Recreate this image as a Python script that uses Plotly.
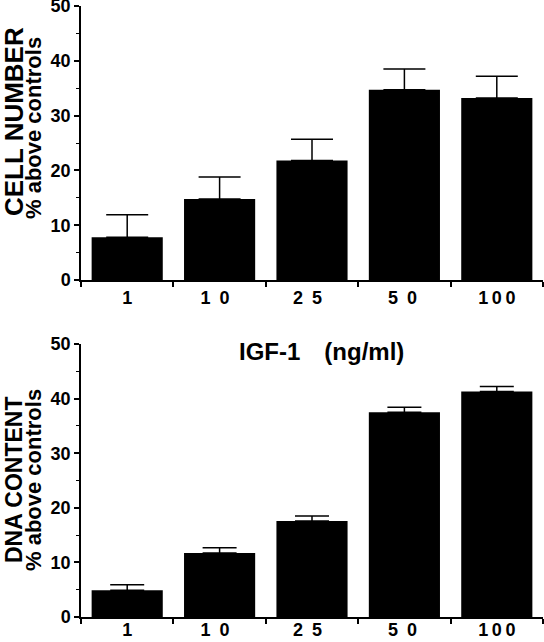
import plotly.graph_objects as go

doses = ["1", "10", "25", "50", "100"]
dose_labels = ["1", "1\u20020\u2002", "2\u20025\u2002", "5\u20020\u2009", "1\u20090\u20090"]
cell_number = [7.8, 14.8, 21.8, 34.7, 33.2]
cell_number_err = [4.1, 4.0, 3.9, 3.8, 4.0]
dna_content = [4.9, 11.7, 17.6, 37.5, 41.3]
dna_content_err = [1.0, 1.0, 0.9, 0.9, 0.9]
y_ticks = [0, 10, 20, 30, 40, 50]

W, H = 544, 642
FONT = "Liberation Sans"

fig = go.Figure()

fig.add_trace(go.Bar(
    x=doses, y=cell_number, xaxis="x", yaxis="y",
    marker=dict(color="black", line=dict(width=0)), width=0.77,
    error_y=dict(type="data", symmetric=False, array=cell_number_err,
                 arrayminus=[0] * len(doses), color="black", thickness=1.5, width=21),
    showlegend=False, cliponaxis=False,
))
fig.add_trace(go.Bar(
    x=doses, y=dna_content, xaxis="x2", yaxis="y2",
    marker=dict(color="black", line=dict(width=0)), width=0.77,
    error_y=dict(type="data", symmetric=False, array=dna_content_err,
                 arrayminus=[0] * len(doses), color="black", thickness=1.5, width=17),
    showlegend=False, cliponaxis=False,
))

xdom = [81 / W, 543 / W]
top_dom = [1 - 280 / H, 1 - 6 / H]
bot_dom = [1 - 617 / H, 1 - 344 / H]

tickfont = dict(family=FONT, size=18, color="black", weight="bold")

def xaxis(anchor, standoff):
    return dict(domain=xdom, anchor=anchor, type="category",
                categoryorder="array", categoryarray=doses,
                tickmode="array", tickvals=doses, ticktext=dose_labels,
                tickson="boundaries", ticks="outside", ticklen=5, tickwidth=1.5,
                tickcolor="black", showline=True, linecolor="black", linewidth=1.5,
                showgrid=False, zeroline=False, tickfont=tickfont, automargin=False,
                ticklabelstandoff=standoff,
                ticklabeloverflow="allow", range=[-0.5, 4.5], fixedrange=True)

def yaxis(anchor, dom):
    return dict(domain=dom, anchor=anchor, range=[0, 50],
                tickmode="array", tickvals=y_ticks, ticks="outside", ticklen=5,
                tickwidth=1.5, tickcolor="black", automargin=False,
                ticklabeloverflow="allow",
                minor=dict(ticks="outside", dtick=5, ticklen=3, tickwidth=1.2, tickcolor="black"),
                showline=True, linecolor="black", linewidth=1.5, showgrid=False,
                zeroline=False, tickfont=tickfont, fixedrange=True)

fig.update_layout(
    width=W, height=H,
    margin=dict(l=0, r=0, t=0, b=0, autoexpand=False),
    paper_bgcolor="white", plot_bgcolor="white",
    bargap=0.2,
    xaxis=xaxis("y", 1), yaxis=yaxis("x", top_dom),
    xaxis2=xaxis("y2", -4), yaxis2=yaxis("x2", bot_dom),
    font=dict(family=FONT, color="black"),
)

def ann(text, x, y, size, angle=-90):
    fig.add_annotation(text=text, x=x / W, y=1 - y / H, xref="paper", yref="paper",
                       showarrow=False, textangle=angle, xanchor="center", yanchor="middle",
                       font=dict(family=FONT, size=size, color="black", weight="bold"))

ann("CELL NUMBER", 14, 122, 26)
ann("% above controls", 33, 128, 22)
ann("DNA CONTENT", 14, 480, 23)
ann("% above controls", 33, 480, 22)
ann("IGF-1\u2002\u2002(ng/ml)", 321.7, 351, 24, angle=0)

fig.write_html("out.html", config={"displayModeBar": False},
               post_script="document.body.style.margin='0';document.body.style.overflow='hidden';")
